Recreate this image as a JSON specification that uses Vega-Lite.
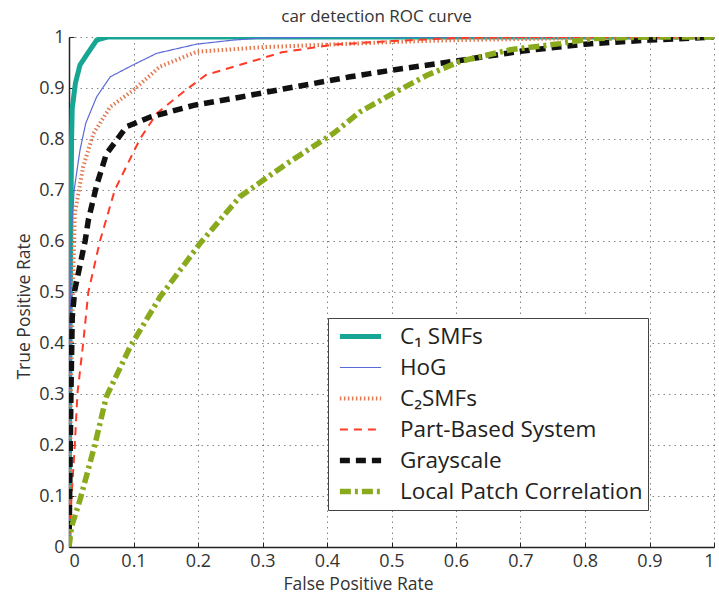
{
  "$schema": "https://vega.github.io/schema/vega-lite/v6.json",
  "width": 645,
  "height": 510,
  "autosize": {"type": "none"},
  "padding": {"left": 69, "top": 37, "right": 5, "bottom": 49},
  "background": "white",
  "title": {"text": "car detection ROC curve", "font": "Open Sans", "fontSize": 17, "fontWeight": "normal", "color": "#333", "anchor": "middle", "offset": 2, "dx": -15},
  "config": {"view": {"stroke": null}, "font": "Open Sans"},
  "data": {"values": [
    {"series": "C₁ SMFs", "fpr": 0, "tpr": 0},
    {"series": "C₁ SMFs", "fpr": 0.002, "tpr": 0.5},
    {"series": "C₁ SMFs", "fpr": 0.004, "tpr": 0.8},
    {"series": "C₁ SMFs", "fpr": 0.005, "tpr": 0.86},
    {"series": "C₁ SMFs", "fpr": 0.01, "tpr": 0.91},
    {"series": "C₁ SMFs", "fpr": 0.017, "tpr": 0.945},
    {"series": "C₁ SMFs", "fpr": 0.03, "tpr": 0.97},
    {"series": "C₁ SMFs", "fpr": 0.043, "tpr": 0.994},
    {"series": "C₁ SMFs", "fpr": 0.06, "tpr": 1},
    {"series": "C₁ SMFs", "fpr": 1, "tpr": 1},
    {"series": "HoG", "fpr": 0, "tpr": 0},
    {"series": "HoG", "fpr": 0.002, "tpr": 0.45},
    {"series": "HoG", "fpr": 0.004, "tpr": 0.62},
    {"series": "HoG", "fpr": 0.008, "tpr": 0.7},
    {"series": "HoG", "fpr": 0.017, "tpr": 0.778},
    {"series": "HoG", "fpr": 0.026, "tpr": 0.831},
    {"series": "HoG", "fpr": 0.043, "tpr": 0.883},
    {"series": "HoG", "fpr": 0.064, "tpr": 0.922},
    {"series": "HoG", "fpr": 0.099, "tpr": 0.945},
    {"series": "HoG", "fpr": 0.136, "tpr": 0.968},
    {"series": "HoG", "fpr": 0.198, "tpr": 0.986},
    {"series": "HoG", "fpr": 0.255, "tpr": 0.994},
    {"series": "HoG", "fpr": 0.3, "tpr": 0.998},
    {"series": "HoG", "fpr": 0.4, "tpr": 1},
    {"series": "HoG", "fpr": 1, "tpr": 1},
    {"series": "C₂SMFs", "fpr": 0, "tpr": 0},
    {"series": "C₂SMFs", "fpr": 0.003, "tpr": 0.3},
    {"series": "C₂SMFs", "fpr": 0.006, "tpr": 0.5},
    {"series": "C₂SMFs", "fpr": 0.009, "tpr": 0.654},
    {"series": "C₂SMFs", "fpr": 0.022, "tpr": 0.746},
    {"series": "C₂SMFs", "fpr": 0.038, "tpr": 0.811},
    {"series": "C₂SMFs", "fpr": 0.064, "tpr": 0.863},
    {"series": "C₂SMFs", "fpr": 0.1, "tpr": 0.896},
    {"series": "C₂SMFs", "fpr": 0.141, "tpr": 0.942},
    {"series": "C₂SMFs", "fpr": 0.198, "tpr": 0.971},
    {"series": "C₂SMFs", "fpr": 0.255, "tpr": 0.976},
    {"series": "C₂SMFs", "fpr": 0.3, "tpr": 0.98},
    {"series": "C₂SMFs", "fpr": 0.4, "tpr": 0.985},
    {"series": "C₂SMFs", "fpr": 0.5, "tpr": 0.99},
    {"series": "C₂SMFs", "fpr": 0.6, "tpr": 0.994},
    {"series": "C₂SMFs", "fpr": 0.8, "tpr": 0.998},
    {"series": "C₂SMFs", "fpr": 1, "tpr": 1},
    {"series": "Part-Based System", "fpr": 0, "tpr": 0},
    {"series": "Part-Based System", "fpr": 0.002, "tpr": 0.05},
    {"series": "Part-Based System", "fpr": 0.004, "tpr": 0.1},
    {"series": "Part-Based System", "fpr": 0.009, "tpr": 0.2},
    {"series": "Part-Based System", "fpr": 0.013, "tpr": 0.3},
    {"series": "Part-Based System", "fpr": 0.022, "tpr": 0.4},
    {"series": "Part-Based System", "fpr": 0.03, "tpr": 0.5},
    {"series": "Part-Based System", "fpr": 0.048, "tpr": 0.6},
    {"series": "Part-Based System", "fpr": 0.071, "tpr": 0.7},
    {"series": "Part-Based System", "fpr": 0.11, "tpr": 0.8},
    {"series": "Part-Based System", "fpr": 0.136, "tpr": 0.85},
    {"series": "Part-Based System", "fpr": 0.182, "tpr": 0.897},
    {"series": "Part-Based System", "fpr": 0.213, "tpr": 0.926},
    {"series": "Part-Based System", "fpr": 0.296, "tpr": 0.957},
    {"series": "Part-Based System", "fpr": 0.33, "tpr": 0.97},
    {"series": "Part-Based System", "fpr": 0.41, "tpr": 0.985},
    {"series": "Part-Based System", "fpr": 0.5, "tpr": 0.992},
    {"series": "Part-Based System", "fpr": 0.6, "tpr": 0.998},
    {"series": "Part-Based System", "fpr": 0.7, "tpr": 1},
    {"series": "Part-Based System", "fpr": 1, "tpr": 1},
    {"series": "Grayscale", "fpr": 0, "tpr": 0},
    {"series": "Grayscale", "fpr": 0.003, "tpr": 0.3},
    {"series": "Grayscale", "fpr": 0.005, "tpr": 0.45},
    {"series": "Grayscale", "fpr": 0.009, "tpr": 0.504},
    {"series": "Grayscale", "fpr": 0.025, "tpr": 0.6},
    {"series": "Grayscale", "fpr": 0.03, "tpr": 0.641},
    {"series": "Grayscale", "fpr": 0.043, "tpr": 0.71},
    {"series": "Grayscale", "fpr": 0.058, "tpr": 0.771},
    {"series": "Grayscale", "fpr": 0.074, "tpr": 0.798},
    {"series": "Grayscale", "fpr": 0.089, "tpr": 0.824},
    {"series": "Grayscale", "fpr": 0.126, "tpr": 0.843},
    {"series": "Grayscale", "fpr": 0.193, "tpr": 0.866},
    {"series": "Grayscale", "fpr": 0.265, "tpr": 0.882},
    {"series": "Grayscale", "fpr": 0.332, "tpr": 0.898},
    {"series": "Grayscale", "fpr": 0.436, "tpr": 0.922},
    {"series": "Grayscale", "fpr": 0.5, "tpr": 0.935},
    {"series": "Grayscale", "fpr": 0.6, "tpr": 0.953},
    {"series": "Grayscale", "fpr": 0.7, "tpr": 0.972},
    {"series": "Grayscale", "fpr": 0.8, "tpr": 0.986},
    {"series": "Grayscale", "fpr": 0.9, "tpr": 0.994},
    {"series": "Grayscale", "fpr": 1, "tpr": 1},
    {"series": "Local Patch Correlation", "fpr": 0, "tpr": 0},
    {"series": "Local Patch Correlation", "fpr": 0.004, "tpr": 0.04},
    {"series": "Local Patch Correlation", "fpr": 0.017, "tpr": 0.092},
    {"series": "Local Patch Correlation", "fpr": 0.04, "tpr": 0.2},
    {"series": "Local Patch Correlation", "fpr": 0.058, "tpr": 0.295},
    {"series": "Local Patch Correlation", "fpr": 0.095, "tpr": 0.393},
    {"series": "Local Patch Correlation", "fpr": 0.141, "tpr": 0.49},
    {"series": "Local Patch Correlation", "fpr": 0.203, "tpr": 0.595},
    {"series": "Local Patch Correlation", "fpr": 0.265, "tpr": 0.687},
    {"series": "Local Patch Correlation", "fpr": 0.338, "tpr": 0.752},
    {"series": "Local Patch Correlation", "fpr": 0.41, "tpr": 0.811},
    {"series": "Local Patch Correlation", "fpr": 0.451, "tpr": 0.853},
    {"series": "Local Patch Correlation", "fpr": 0.503, "tpr": 0.89},
    {"series": "Local Patch Correlation", "fpr": 0.555, "tpr": 0.925},
    {"series": "Local Patch Correlation", "fpr": 0.606, "tpr": 0.952},
    {"series": "Local Patch Correlation", "fpr": 0.684, "tpr": 0.975},
    {"series": "Local Patch Correlation", "fpr": 0.761, "tpr": 0.987},
    {"series": "Local Patch Correlation", "fpr": 0.812, "tpr": 0.997},
    {"series": "Local Patch Correlation", "fpr": 0.9, "tpr": 1},
    {"series": "Local Patch Correlation", "fpr": 1, "tpr": 1}
  ]},
  "mark": {"type": "line", "clip": true},
  "encoding": {
    "x": {"field": "fpr", "type": "quantitative", "scale": {"domain": [0, 1], "nice": false},
      "axis": {"title": "False Positive Rate", "values": [0,0.1,0.2,0.3,0.4,0.5,0.6,0.7,0.8,0.9,1], "format": "~g",
        "grid": true, "gridDash": [1.5, 4], "gridColor": "#666", "gridOpacity": 0.8,
        "domainColor": "#222", "domainWidth": 1.5, "tickColor": "#222", "tickSize": -5, "labelPadding": 10,
        "labelFontSize": 18, "labelColor": "#333", "titleFontSize": 17.5, "titleFontWeight": "normal", "titleColor": "#333", "titlePadding": 5, "titleX": 289}},
    "y": {"field": "tpr", "type": "quantitative", "scale": {"domain": [0, 1], "nice": false},
      "axis": {"title": "True Positive Rate", "values": [0,0.1,0.2,0.3,0.4,0.5,0.6,0.7,0.8,0.9,1], "format": "~g",
        "grid": true, "gridDash": [1.5, 4], "gridColor": "#666", "gridOpacity": 0.8,
        "domainColor": "#222", "domainWidth": 1.5, "tickColor": "#222", "tickSize": -5, "labelPadding": 10,
        "labelFontSize": 18, "labelColor": "#333", "titleFontSize": 17.5, "titleFontWeight": "normal", "titleColor": "#333", "titlePadding": 5, "titleY": 269}},
    "order": {"value": null},
    "color": {"field": "series", "type": "nominal",
      "scale": {"domain": ["C₁ SMFs", "HoG", "C₂SMFs", "Part-Based System", "Grayscale", "Local Patch Correlation"],
        "range": ["#17a594", "#5a6ad8", "#e27a52", "#ff3b28", "#111111", "#8aaa1e"]},
      "legend": {"title": null, "orient": "none", "legendX": 259, "legendY": 281,
        "symbolType": "stroke", "symbolSize": 1700, "symbolOffset": 4, "clipHeight": 27, "labelFontSize": 22.5, "labelColor": "#222", "labelOffset": 16,
        "rowPadding": 4, "padding": 5, "strokeColor": "#444", "fillColor": "white", "labelLimit": 400}},
    "strokeDash": {"field": "series", "type": "nominal",
      "scale": {"domain": ["C₁ SMFs", "HoG", "C₂SMFs", "Part-Based System", "Grayscale", "Local Patch Correlation"],
        "range": [[1, 0], [1, 0], [1.5, 2.5], [8, 6], [10, 6], [11, 4, 3, 4]]},
      "legend": {"title": null}},
    "strokeWidth": {"field": "series", "type": "nominal",
      "scale": {"type": "ordinal", "domain": ["C₁ SMFs", "HoG", "C₂SMFs", "Part-Based System", "Grayscale", "Local Patch Correlation"],
        "range": [5, 1.2, 4, 2, 5.5, 5.5]},
      "legend": {"title": null}}
  }
}
